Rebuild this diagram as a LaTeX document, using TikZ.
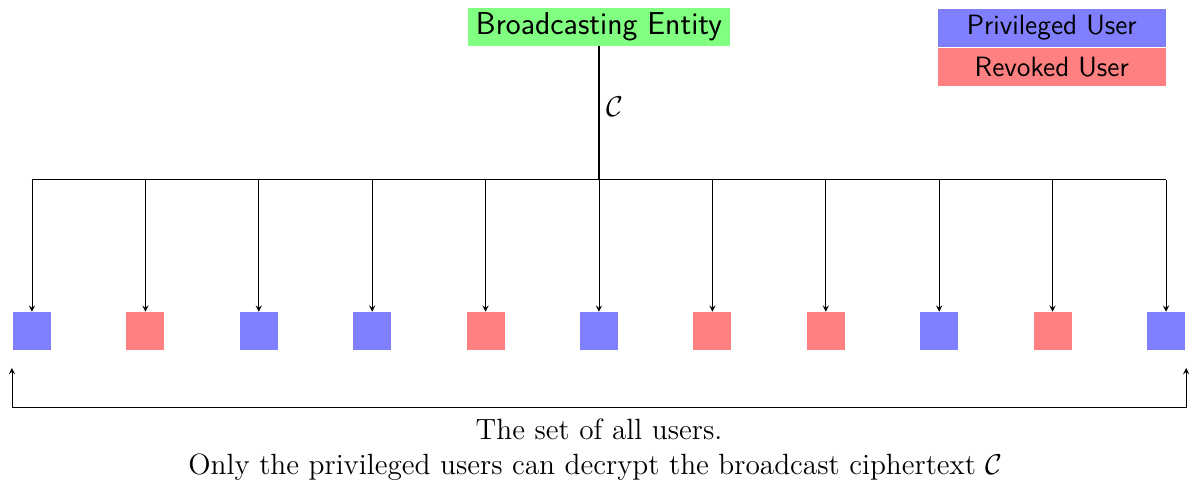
\documentclass[tikz,border=0pt]{standalone}
\usepackage{tikz}
\usetikzlibrary{positioning}
\usetikzlibrary{arrows.meta}

\begin{document}
\begin{tikzpicture}[>=stealth,
  font=\fontsize{14.7}{17}\selectfont,
  user/.style={minimum size=0.67cm,inner sep=0pt},
  tag/.style={font=\fontsize{14}{17}\selectfont\sffamily,inner sep=0pt,minimum height=0.67cm}]
  \useasboundingbox (0,0) rectangle (20.97,-8.59);
  % sender and legend
  \node[tag,fill=green!50,minimum width=4.62cm,font=\fontsize{15.9}{19}\selectfont\sffamily] (entity) at (10.564,-0.476) {Broadcasting Entity};
  \node[tag,fill=blue!50,minimum width=4.02cm] (priv) at (18.55,-0.494) {Privileged User};
  \node[tag,fill=red!50,minimum width=4.02cm,below=0pt of priv] (rev) {Revoked User};
  \coordinate (hub) at (10.564,-3.17);
  \draw[thick] (entity) -- node[right,pos=0.45] {$\mathcal{C}$} (hub);
  % users
  \foreach \c [count=\i from 0] in {blue,red,blue,blue,red,blue,red,red,blue,red,blue} {
    \node[user,fill=\c!50] (u\i) at (0.564+2*\i,-5.84) {};
    \coordinate (t\i) at (u\i |- hub);
    \draw[->] (t\i) -- (u\i);
  }
  \draw[semithick] (t0) -- (t10);
  % the set of all users
  \coordinate (l) at (0.21,-6.49);
  \coordinate (r) at (20.92,-6.49);
  \coordinate (lb) at (0.21,-7.18);
  \coordinate (rb) at (20.92,-7.18);
  \draw[<->] (l) -- (lb) -- (rb) -- (r);
  \node (set) at (10.564,-7.58) {The set of all users.};
  \node (note) at (10.5,-8.24) {Only the privileged users can decrypt the broadcast ciphertext $\mathcal{C}$};
\end{tikzpicture}
\end{document}
